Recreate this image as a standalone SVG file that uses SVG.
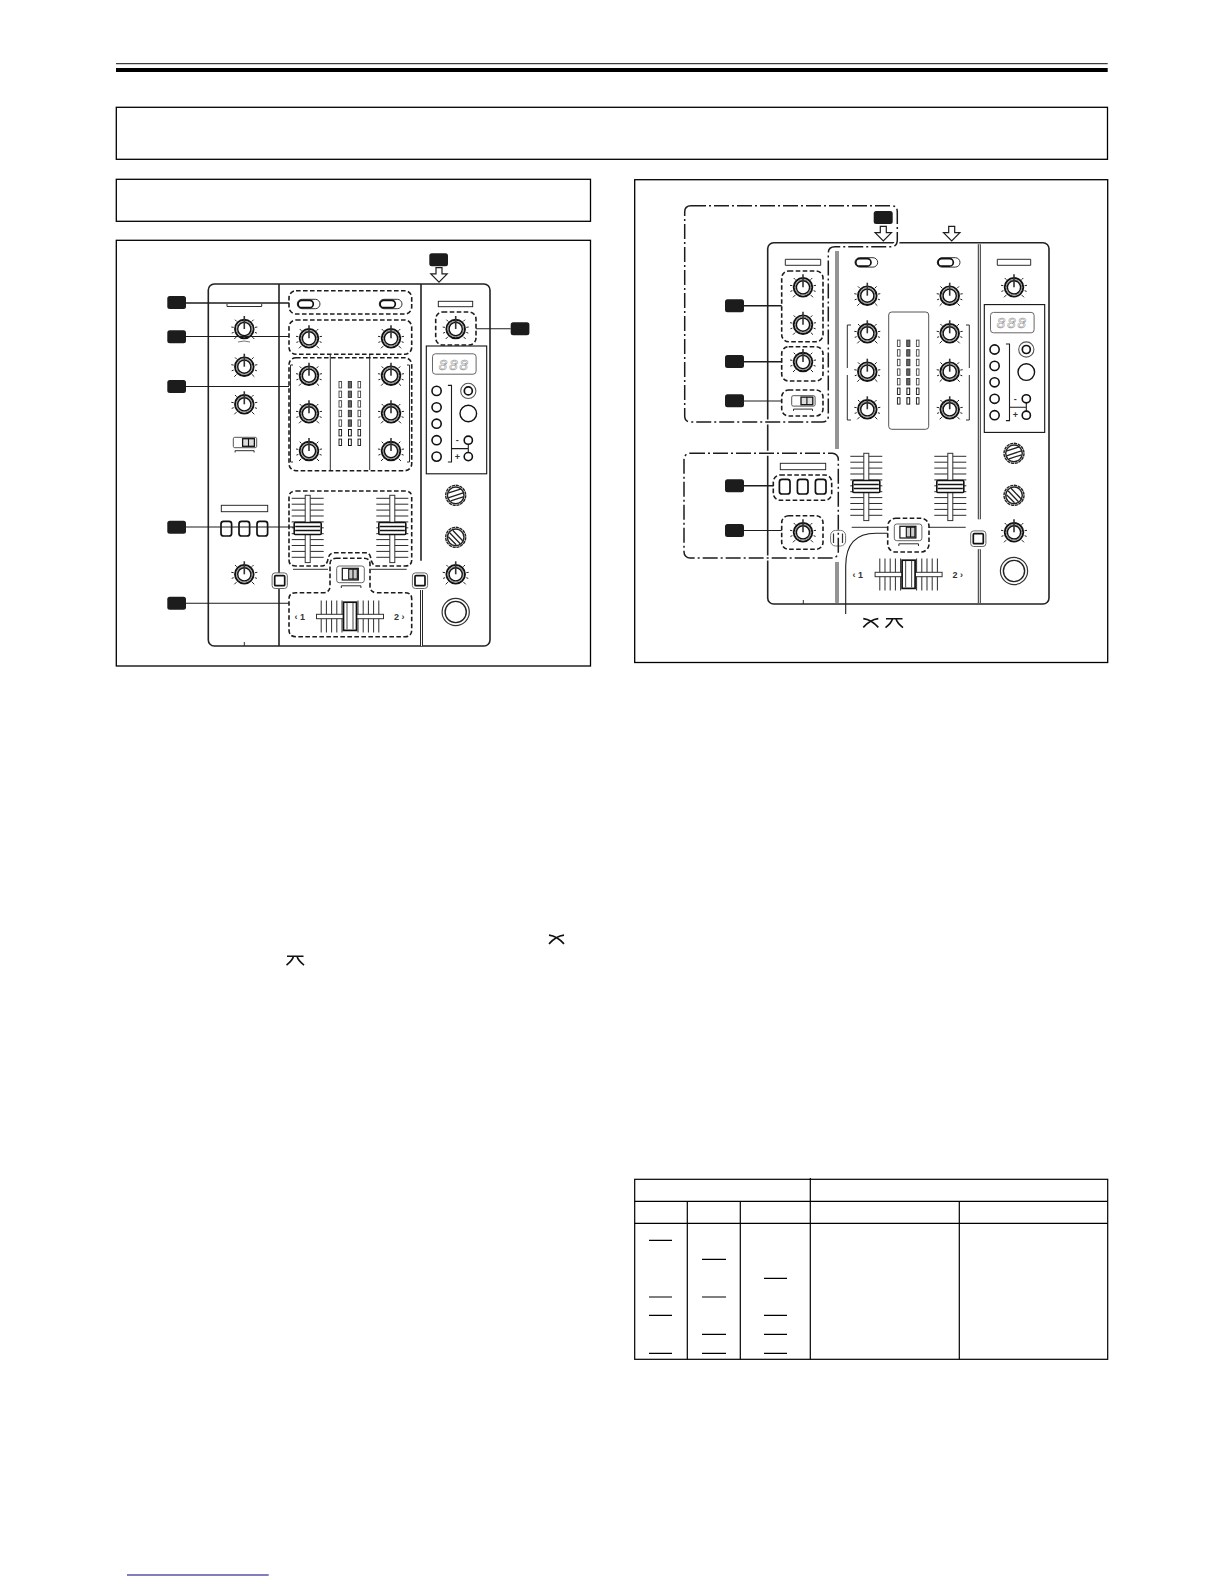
<svg xmlns="http://www.w3.org/2000/svg" width="1224" height="1584" viewBox="0 0 1224 1584">
<style>
.frame{fill:none;stroke:#000;stroke-width:1.3}
.tl{fill:none;stroke:#000;stroke-width:1.2}
.panel{fill:none;stroke:#222;stroke-width:1.6}
.thin{fill:none;stroke:#222;stroke-width:.95}
.dash{fill:none;stroke:#1c1c1c;stroke-width:1.6;stroke-dasharray:4.6 2.4}
.dd{fill:none;stroke:#1c1c1c;stroke-width:1.5;stroke-dasharray:15 3 2 3}
.halo{fill:none;stroke:#fff;stroke-width:5}
.lead{fill:none;stroke:#1c1c1c;stroke-width:1.1}
.leadb{fill:none;stroke:#1c1c1c;stroke-width:1.6}
.tag{fill:#1c1c1c}
.arrow{fill:#fff;stroke:#1c1c1c;stroke-width:1.2}
.dl{stroke:#2a2a2a;stroke-width:3;fill:none}
.dw{stroke:#fff;stroke-width:1;fill:none}
.t{font-family:"Liberation Sans",Arial,sans-serif;font-weight:700;font-size:9px;fill:#333}
.led{font-family:"Liberation Sans",Arial,sans-serif;font-style:italic;font-size:15px;letter-spacing:2px;fill:#fff;stroke:#777;stroke-width:.45;text-anchor:middle}
</style>
<defs>
<g id="knob">
<g stroke="#222" stroke-width="1"><path d="M-7.8 7.8L-10 10M7.8 7.8L10 10M-10.6 -1.6L-13 -2M10.6 -1.6L13 -2M-7.6 -7.6L-9.3 -9.3M7.6 -7.6L9.3 -9.3M-10.6 3.4L-12.6 4.1M10.6 3.4L12.6 4.1"/></g>
<circle r="9.3" fill="#fff" stroke="#111" stroke-width="1.9"/>
<circle r="7.7" fill="none" stroke="#888" stroke-width="1"/>
<circle r="6.6" fill="#fff" stroke="#111" stroke-width="1.4"/>
<path d="M0 0V-13" stroke="#333" stroke-width="1.6"/>
</g>
<g id="hatch1">
<circle r="10" fill="#fff" stroke="#222" stroke-width="1.4" stroke-dasharray="3.2 .7"/>
<circle r="8.3" fill="#fff" stroke="#222" stroke-width="1.4"/>
<path d="M-7 -2.5L5.5 -6.5M-7.5 2.5L7.5 -2.5M-5 5.5L7.5 1.5" stroke="#222" stroke-width="1.3" fill="none"/>
</g>
<g id="hatch2">
<circle r="10" fill="#fff" stroke="#222" stroke-width="1.4" stroke-dasharray="3.2 .7"/>
<circle r="8.3" fill="#fff" stroke="#222" stroke-width="1.4"/>
<path d="M-6 -4.5L4.5 6.5M-3 -7L7 3.5M-7.5 -.5L0.5 7.5" stroke="#222" stroke-width="1.3" fill="none"/>
</g>
<g id="sq">
<rect x="-7.6" y="-7.8" width="15.2" height="15.6" rx="3" fill="#fff" stroke="#666" stroke-width="1"/>
<rect x="-5" y="-5" width="10" height="10" rx="1" fill="#fff" stroke="#111" stroke-width="1.7"/>
</g>
<g id="ring"><circle r="13.6" fill="#fff" stroke="#333" stroke-width="1.2"/><circle r="10.6" fill="#fff" stroke="#222" stroke-width="1.4"/></g>
<g id="pill">
<rect x="0" y="0" width="22.7" height="9.4" rx="4.7" fill="#fff" stroke="#333" stroke-width="1"/>
<rect x="0.8" y="1" width="15.2" height="7.4" rx="3.7" fill="#fff" stroke="#111" stroke-width="1.7"/>
</g>
<g id="switch">
<rect x="0" y="0" width="23.4" height="10.4" rx="1.5" fill="#fff" stroke="#555" stroke-width="1"/>
<rect x="9.3" y="1.4" width="11.8" height="7.6" fill="#ddd" stroke="#111" stroke-width="1.3"/>
<path d="M15.2 1.4V9" stroke="#111" stroke-width="1.1"/>
<path d="M1.8 15.2V13.4H20.8V15.2" class="thin"/>
</g>
<g id="xswitch">
<rect x="0" y="0" width="27.6" height="16.7" rx="2.5" fill="#fff" stroke="#666" stroke-width="1"/>
<rect x="5.6" y="2.3" width="16" height="11.7" fill="#fff" stroke="#111" stroke-width="1.2"/>
<rect x="12" y="3.2" width="8.6" height="9.8" fill="#ccc" stroke="#111" stroke-width="1.1"/>
<path d="M16.3 3.2V13" stroke="#111" stroke-width="1.1"/>
<path d="M4.6 22V19.8H24.2V22" class="thin"/>
</g>
<g id="fader">
<path class="thin" d="M-16 3H16M-16 8.9H16M-16 14.8H16M-16 20.7H16M-16 26.6H16M-16 32.5H16M-16 38.4H16M-16 44.3H16M-16 50.2H16M-16 56.1H16M-16 62H16"/>
<rect x="-2.5" y="0" width="5" height="67.3" fill="#fff" stroke="#333" stroke-width="1"/>
<rect x="-13.5" y="27.2" width="27" height="12" rx="1" fill="#fff" stroke="#111" stroke-width="1.6"/>
<path d="M-12.5 31.2H12.5M-12.5 35.2H12.5" stroke="#111" stroke-width="1.3"/>
</g>
<g id="xfader">
<path class="thin" d="M-28.8 -16V16M-23.6 -16V16M-18.4 -16V16M-13.2 -16V16M-8 -16V16M8 -16V16M13.2 -16V16M18.4 -16V16M23.6 -16V16M28.8 -16V16"/>
<rect x="-33.5" y="-2.2" width="67" height="4.4" fill="#fff" stroke="#333" stroke-width="1"/>
<rect x="-6.5" y="-14.3" width="13" height="28.2" fill="#fff" stroke="#111" stroke-width="1.7"/>
<path d="M-3 -13.5V13M3 -13.5V13" stroke="#555" stroke-width="1.1"/>
</g>
<g id="mrow">
<rect x="-1.3" y="-3.2" width="2.6" height="6.4" fill="#fff" stroke="#444" stroke-width=".9"/>
<rect x="8" y="-3.2" width="3.2" height="6.4" fill="#666" stroke="#333" stroke-width=".9"/>
<rect x="17.7" y="-3.2" width="2.6" height="6.4" fill="#fff" stroke="#444" stroke-width=".9"/>
</g>
<g id="mrow2">
<rect x="-1.3" y="-3.2" width="2.6" height="6.4" fill="#fff" stroke="#111" stroke-width=".9"/>
<rect x="8.2" y="-3.2" width="2.8" height="6.4" fill="#fff" stroke="#111" stroke-width="1"/>
<rect x="17.7" y="-3.2" width="2.6" height="6.4" fill="#fff" stroke="#111" stroke-width=".9"/>
</g>
<g id="meter">
<use href="#mrow"/><use href="#mrow" y="9.6"/><use href="#mrow" y="19.2"/><use href="#mrow" y="28.8"/><use href="#mrow" y="38.4"/><use href="#mrow2" y="48"/><use href="#mrow2" y="57.6"/>
</g>
<g id="display">
<rect x="0" y="0" width="60.4" height="127.8" fill="#fff" stroke="#111" stroke-width="1.1"/>
<rect x="6.2" y="7.8" width="43.6" height="20.4" rx="3" fill="#fff" stroke="#666" stroke-width="1"/>
<text class="led" x="28" y="23.5">888</text>
<g fill="#fff" stroke="#111" stroke-width="1.6">
<circle cx="10.3" cy="44.9" r="4.6"/><circle cx="10.3" cy="61.3" r="4.6"/><circle cx="10.3" cy="77.7" r="4.6"/><circle cx="10.3" cy="94.2" r="4.6"/><circle cx="10.3" cy="110.6" r="4.6"/>
</g>
<path class="lead" d="M21.6 39.4H25.2V116H21.6M25.2 102.6H42V94.2V110.6"/>
<circle cx="42" cy="94.2" r="4.1" fill="#fff" stroke="#111" stroke-width="1.6"/>
<circle cx="42" cy="110.6" r="4.1" fill="#fff" stroke="#111" stroke-width="1.6"/>
<circle cx="42" cy="44.9" r="7.6" fill="#fff" stroke="#555" stroke-width="1.1"/>
<circle cx="42" cy="44.9" r="4" fill="#fff" stroke="#111" stroke-width="1.7"/>
<circle cx="42" cy="67.5" r="8.3" fill="#fff" stroke="#111" stroke-width="1.4"/>
<text class="t" x="31" y="97" text-anchor="middle">-</text>
<text class="t" x="31" y="113.5" text-anchor="middle">+</text>
</g>
<path id="darrow" class="arrow" d="M-3 0H3V6.3H8.2L0 14.6L-8.2 6.3H-3Z"/>
<path id="curveA" d="M0 0.6Q8 1.5 15 9.4M15 0.6Q7 1.5 0 9.4" fill="none" stroke="#111" stroke-width="1.6"/>
<path id="curveB" d="M0.5 0.8H17M7 0.8Q6 5 0 9.6M10.5 0.8Q11.5 5 17.5 9.6" fill="none" stroke="#111" stroke-width="1.6"/>
</defs>
<rect width="1224" height="1584" fill="#fff"/>

<g id="header-rule">
<path d="M116 63.7H1107.7" stroke="#111" stroke-width="1"/>
<rect x="116" y="68" width="991.7" height="4" fill="#000"/>
</g>
<rect id="title-box" class="frame" x="116.3" y="107.3" width="991.2" height="52"/>
<rect id="subtitle-box" class="frame" x="116.3" y="179.3" width="474.2" height="42"/>
<rect id="left-figure-frame" class="frame" x="116.3" y="240.3" width="474.2" height="425.7"/>
<rect id="right-figure-frame" class="frame" x="634.7" y="179.7" width="473" height="482.8"/>

<g id="left-mixer">
<rect class="panel" x="208.3" y="284" width="281.7" height="362" rx="6"/>
<path class="panel" d="M279 284V646M421 284V560.7"/>
<path class="dl" d="M421.5 590V646"/><path class="dw" d="M421.5 590V646"/>
<path class="thin" d="M244.3 642V646M227 304V306.5H261.7V304"/>
<rect class="thin" x="438.3" y="301.3" width="34.4" height="5.4"/>
<use href="#knob" x="244.3" y="329"/>
<path d="M238 342Q244 340 250 342" fill="none" stroke="#555" stroke-width=".8"/>
<use href="#knob" x="244.3" y="366.7"/>
<use href="#knob" x="244.3" y="404.3"/>
<use href="#switch" x="233.3" y="437.3"/>
<rect class="thin" x="221.3" y="505.3" width="46.4" height="6.4"/>
<g fill="#fff" stroke="#111" stroke-width="1.7"><rect x="221" y="521.3" width="10.6" height="14.7" rx="2.6"/><rect x="239" y="521.3" width="10.6" height="14.7" rx="2.6"/><rect x="257" y="521.3" width="10.6" height="14.7" rx="2.6"/></g>
<use href="#knob" x="244.3" y="574.3"/>
<use href="#sq" x="279.7" y="580.7"/>
<use href="#sq" x="420" y="580.7"/>
<use href="#pill" x="297.3" y="299.3"/>
<use href="#pill" x="379.3" y="299.3"/>
<use href="#knob" x="309" y="338.3"/><use href="#knob" x="391" y="338.3"/>
<path class="thin" d="M330.3 354V470M369.7 354V470M293 365H290.5V462H293M407 365H409.5V462H407"/>
<use href="#meter" x="340.3" y="384.7"/>
<use href="#knob" x="309" y="375.7"/><use href="#knob" x="391" y="375.7"/>
<use href="#knob" x="309" y="413.3"/><use href="#knob" x="391" y="413.3"/>
<use href="#knob" x="309" y="451"/><use href="#knob" x="391" y="451"/>
<use href="#fader" x="307.7" y="495.3"/>
<use href="#fader" x="392.3" y="495.3"/>
<path class="thin" d="M293 569.3H328M371 569.3H406.7"/>
<use href="#xswitch" x="336.7" y="566"/>
<use href="#xfader" x="350" y="616.5"/>
<text class="t" x="294.5" y="619.5">‹ 1</text>
<text class="t" x="394" y="619.5">2 ›</text>
<use href="#knob" x="455.7" y="329"/>
<use href="#display" x="426.3" y="346"/>
<use href="#hatch1" x="455.7" y="495.3"/>
<use href="#hatch2" x="455.7" y="537.3"/>
<use href="#knob" x="455.7" y="574.3"/>
<use href="#ring" x="455.7" y="612"/>
</g>

<g id="left-highlights">
<rect class="dash" x="289" y="290.7" width="122.7" height="23.3" rx="7"/>
<rect class="dash" x="289" y="320" width="122.7" height="34.3" rx="7"/>
<rect class="dash" x="289" y="357.7" width="122.7" height="113" rx="7"/>
<rect class="dash" x="435.7" y="312" width="40.3" height="33" rx="7"/>
<path class="dash" d="M296 491H405Q411.7 491 411.7 497V560Q411.7 566 405 566H377Q373 566 371.5 561L370.5 557Q369.5 552.7 365 552.7H335Q330 552.7 328.5 557L327.5 561Q326 566 322 566H296Q289 566 289 560V497Q289 491 296 491Z"/>
<path class="dash" d="M336 558.3H364Q370 558.3 370 564V586Q370 592.7 377 592.7H405Q411.7 592.7 411.7 599V630Q411.7 636.7 405 636.7H296Q289 636.7 289 630V599Q289 592.7 296 592.7H323Q330 592.7 330 586V564Q330 558.3 336 558.3Z"/>
</g>

<g id="right-mixer">
<rect class="panel" x="767.7" y="242.7" width="281.3" height="361.3" rx="6"/>
<path class="thin" d="M803.3 600V604"/>
<path class="thin" d="M785.3 259.3H820.7V265.3H785.3ZM997.3 259.3H1030.7V265.3H997.3Z"/>
<use href="#knob" x="803" y="287.3"/><use href="#knob" x="803" y="324.7"/><use href="#knob" x="803" y="362"/>
<use href="#switch" x="791.7" y="395.7"/>
<rect class="thin" x="780.3" y="463.3" width="45.4" height="6.4"/>
<g fill="#fff" stroke="#111" stroke-width="1.7"><rect x="779.4" y="479.3" width="10.6" height="14.7" rx="2.6"/><rect x="797.4" y="479.3" width="10.6" height="14.7" rx="2.6"/><rect x="815.4" y="479.3" width="10.6" height="14.7" rx="2.6"/></g>
<use href="#knob" x="803" y="532.3"/>
<use href="#pill" x="855" y="257.7"/><use href="#pill" x="937.3" y="257.7"/>
<use href="#knob" x="867.3" y="295.7"/><use href="#knob" x="949.7" y="295.7"/>
<use href="#knob" x="867.3" y="333.3"/><use href="#knob" x="949.7" y="333.3"/>
<use href="#knob" x="867.3" y="371.7"/><use href="#knob" x="949.7" y="371.7"/>
<use href="#knob" x="867.3" y="409.3"/><use href="#knob" x="949.7" y="409.3"/>
<path class="thin" d="M851 325H847.3V368M847.3 375V420H851M966 325H969.3V368M969.3 375V420H966"/>
<rect x="888.7" y="312" width="40" height="117.3" rx="3" fill="#fff" stroke="#555" stroke-width="1"/>
<use href="#meter" x="898.7" y="343.3"/>
<use href="#fader" x="866.3" y="453.3"/>
<use href="#fader" x="950.3" y="453.3"/>
<path class="thin" d="M851.7 527.3H887.7M929 527.3H965.7"/>
<use href="#xswitch" x="894.3" y="524"/>
<use href="#xfader" x="908.6" y="574.5"/>
<text class="t" x="852.5" y="577.5">‹ 1</text>
<text class="t" x="952.5" y="577.5">2 ›</text>
<use href="#sq" x="978.3" y="538.7"/>
<use href="#knob" x="1014" y="287.3"/>
<use href="#display" x="984.3" y="304.6"/>
<use href="#hatch1" x="1014" y="453.3"/>
<use href="#hatch2" x="1014" y="495.3"/>
<use href="#knob" x="1014" y="532.3"/>
<use href="#ring" x="1014" y="571"/>
</g>

<g id="right-highlights">
<path class="halo" d="M691 205.7H891Q897.3 205.7 897.3 212V240Q897.3 246.7 891 246.7H835Q828.3 246.7 828.3 253V416Q828.3 422 822 422H691Q684.7 422 684.7 416V212Q684.7 205.7 691 205.7Z"/>
<rect class="halo" x="684" y="453.3" width="154.3" height="104.7" rx="6"/>
<g id="center-dividers">
<path class="dl" d="M837 251V449M837 562V602.7M979.3 244.3V519.3M979.3 549.3V603"/>
<path class="dw" d="M837 251V449M837 562V602.7M979.3 244.3V519.3M979.3 549.3V603"/>
</g>
<rect x="830.6" y="530.4" width="15" height="15.6" rx="5" fill="#fff" stroke="#777" stroke-width="1"/>
<path d="M833.5 533.5V543M842.5 533.5V543" stroke="#333" stroke-width="1.2" fill="none"/>
<path class="dd" d="M691 205.7H891Q897.3 205.7 897.3 212V240Q897.3 246.7 891 246.7H835Q828.3 246.7 828.3 253V416Q828.3 422 822 422H691Q684.7 422 684.7 416V212Q684.7 205.7 691 205.7Z"/>
<rect class="dd" x="684" y="453.3" width="154.3" height="104.7" rx="6"/>
<rect class="dash" x="781.7" y="271" width="41.3" height="70.7" rx="7"/>
<rect class="dash" x="781.7" y="346.7" width="41.3" height="34.3" rx="7"/>
<rect class="dash" x="781.7" y="390" width="41.3" height="26" rx="7"/>
<rect class="dash" x="773.3" y="475" width="58.4" height="25.3" rx="7"/>
<rect class="dash" x="781.7" y="515.7" width="41.3" height="33.6" rx="7"/>
<rect class="dash" x="887.7" y="518.3" width="41.3" height="33.7" rx="8"/>
</g>

<g id="connectors">
<path class="leadb" d="M186 303H289"/>
<path class="lead" d="M186 336.5H289M186 386.5H289M186 527H294M186 603.2H289M476 328.7H510.7"/>
<path class="leadb" d="M744 305.7H781.7M744 361.7H781.7M744 485.7H773.3"/>
<path class="lead" d="M744 401H781.7M744 530.5H781.7"/>
<path class="lead" d="M887.7 533.3H876Q845.7 533.3 845.7 566V614"/>
<use href="#darrow" x="439" y="267.6"/>
<use href="#darrow" x="883.3" y="226.3"/>
<use href="#darrow" x="951.7" y="226.3"/>
</g>

<g id="callout-1"><rect class="tag" x="167.3" y="296" width="18.7" height="13" rx="2.5"/></g>
<g id="callout-2"><rect class="tag" x="167.3" y="330.3" width="18.7" height="13" rx="2.5"/></g>
<g id="callout-3"><rect class="tag" x="167.3" y="380" width="18.7" height="13" rx="2.5"/></g>
<g id="callout-4"><rect class="tag" x="167.3" y="520.7" width="18.7" height="13" rx="2.5"/></g>
<g id="callout-5"><rect class="tag" x="167.3" y="596.7" width="18.7" height="13" rx="2.5"/></g>
<g id="callout-6"><rect class="tag" x="510.7" y="322.3" width="18.7" height="13" rx="2.5"/></g>
<g id="callout-7"><rect class="tag" x="429.3" y="253.3" width="18.7" height="13" rx="2.5"/></g>
<g id="callout-8"><rect class="tag" x="873.7" y="211" width="19" height="13" rx="2.5"/></g>
<g id="callout-9"><rect class="tag" x="725" y="299.3" width="19" height="13" rx="2.5"/></g>
<g id="callout-10"><rect class="tag" x="725" y="355" width="19" height="13" rx="2.5"/></g>
<g id="callout-11"><rect class="tag" x="725" y="394.3" width="19" height="13" rx="2.5"/></g>
<g id="callout-12"><rect class="tag" x="725" y="479.3" width="19" height="13" rx="2.5"/></g>
<g id="callout-13"><rect class="tag" x="725" y="524" width="19" height="13" rx="2.5"/></g>

<g id="curve-symbols">
<use href="#curveA" x="863.3" y="618"/>
<use href="#curveB" x="885.5" y="618"/>
<use href="#curveA" x="549" y="934.5"/>
<use href="#curveB" x="286.5" y="955.5"/>
</g>

<g id="table">
<rect class="tl" x="634.7" y="1179.3" width="473" height="180"/>
<path class="tl" d="M634.7 1201.3H1107.7M634.7 1223.3H1107.7M810.3 1178V1359.3M687.3 1201.3V1359.3M740.3 1201.3V1359.3M959.3 1201.3V1359.3"/>
<path class="tl" d="M649 1240.3H672M649 1297H672M649 1315.3H672M649 1353.3H672M702 1259.3H726M702 1297H726M702 1334.3H726M702 1353.3H726M764 1278.3H787M764 1315.3H787M764 1334.3H787M764 1353.3H787"/>
</g>
<path id="footer-rule" d="M127 1575H268.7" stroke="#000080" stroke-width="1.2"/>
</svg>
